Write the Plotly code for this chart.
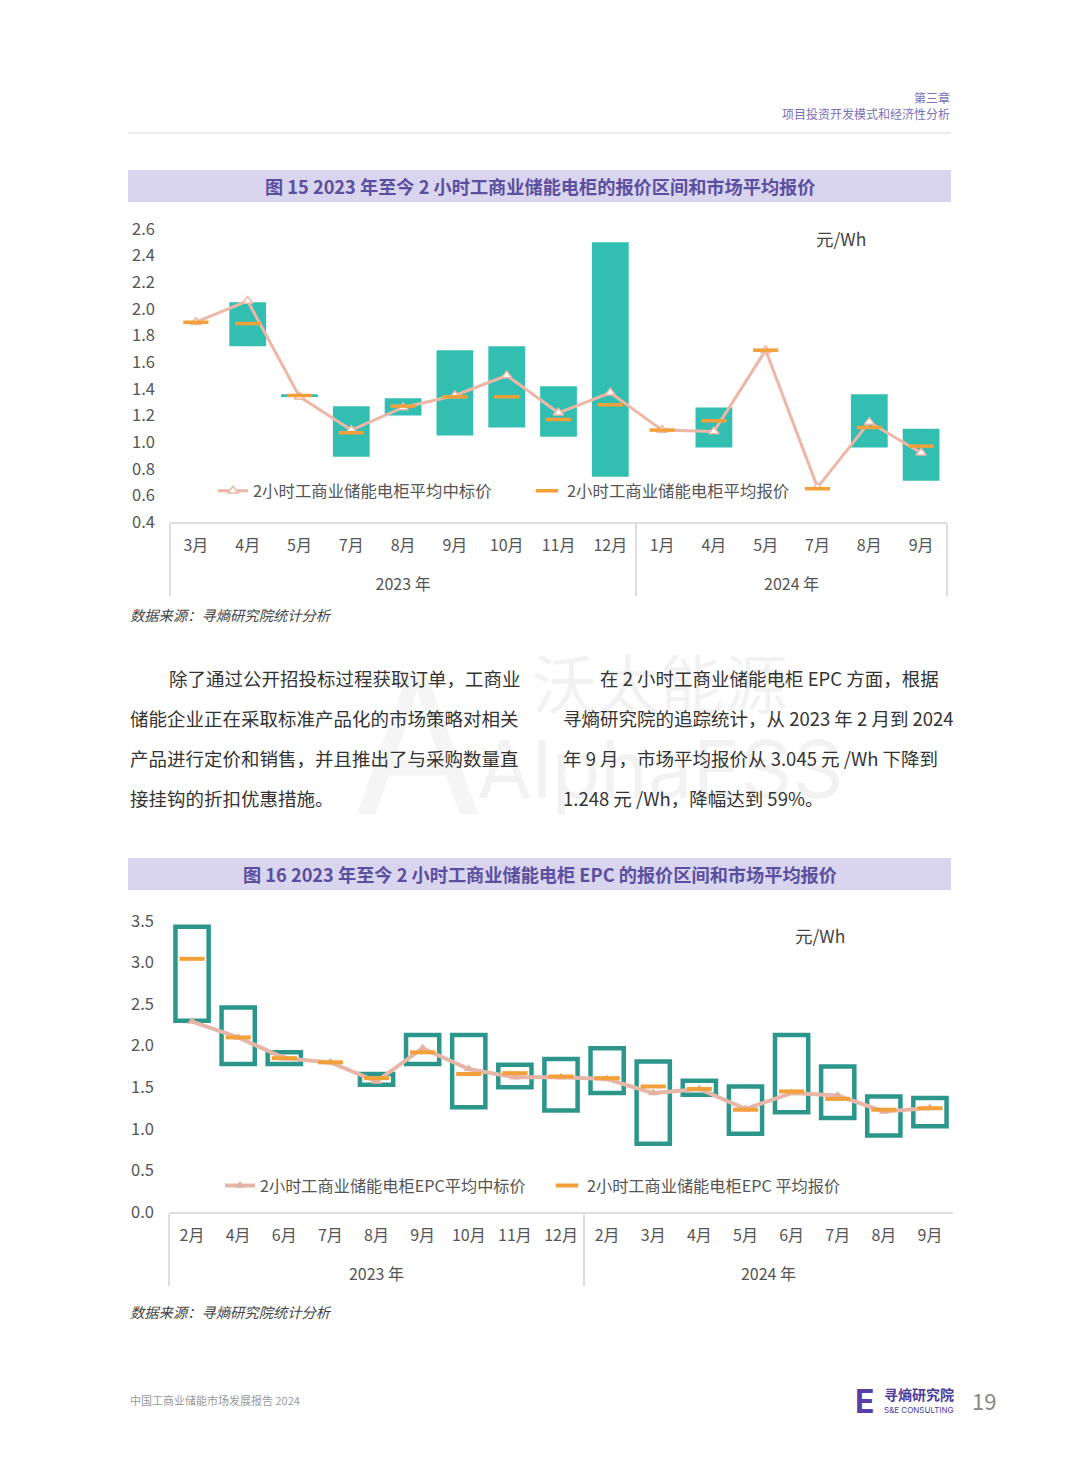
import plotly.graph_objects as go

# ---------------- Data: Figure 15 ----------------
years1 = ["2023 年"] * 9 + ["2024 年"] * 6
months1 = ["3月", "4月", "5月", "7月", "8月", "9月", "10月", "11月", "12月",
           "1月", "4月", "5月", "7月", "8月", "9月"]
low1 = [None, 1.72, 1.345, 0.89, 1.20, 1.05, 1.11, 1.04, 0.74,
        None, 0.96, None, None, 0.96, 0.71]
high1 = [None, 2.05, 1.36, 1.27, 1.33, 1.69, 1.72, 1.42, 2.50,
         None, 1.26, None, None, 1.36, 1.10]
bid1 = [1.90, 2.06, 1.34, 1.09, 1.26, 1.35, 1.50, 1.22, 1.37,
        1.09, 1.08, 1.69, 0.66, 1.15, 0.92]
quote1 = [1.90, 1.89, 1.35, 1.07, 1.27, 1.34, 1.34, 1.17, 1.28,
          1.09, 1.16, 1.69, 0.65, 1.11, 0.97]

# ---------------- Data: Figure 16 ----------------
years2 = ["2023 年"] * 9 + ["2024 年"] * 8
months2 = ["2月", "4月", "6月", "7月", "8月", "9月", "10月", "11月", "12月",
           "2月", "3月", "4月", "5月", "6月", "7月", "8月", "9月"]
low2 = [2.30, 1.78, 1.78, None, 1.53, 1.78, 1.26, 1.50, 1.22,
        1.43, 0.82, 1.41, 0.94, 1.20, 1.13, 0.92, 1.03]
high2 = [3.43, 2.46, 1.92, None, 1.66, 2.13, 2.13, 1.77, 1.84,
         1.97, 1.81, 1.58, 1.51, 2.13, 1.75, 1.39, 1.37]
bid2 = [2.29, 2.10, 1.85, 1.80, 1.57, 1.97, 1.72, 1.62, 1.62,
        1.60, 1.43, 1.48, 1.24, 1.43, 1.40, 1.21, 1.25]
quote2 = [3.045, 2.10, 1.85, 1.80, 1.61, 1.92, 1.66, 1.67, 1.63,
          1.61, 1.51, 1.48, 1.23, 1.45, 1.36, 1.23, 1.248]

name_bid1 = "2小时工商业储能电柜平均中标价"
name_quote1 = "2小时工商业储能电柜平均报价"
name_bid2 = "2小时工商业储能电柜EPC平均中标价"
name_quote2 = "2小时工商业储能电柜EPC 平均报价"

W, H = 1080, 1466
OFF = 8  # page body margin of the html page
FONT = "Noto Sans CJK SC, Noto Sans, sans-serif"
TEAL = "#33beb2"
TEAL_DARK = "#2c968b"
ORANGE = "#f3a03a"
PINK = "#eeb6a6"
PURPLE = "#5b4f9f"
GRAY_TXT = "#555555"


def px(x):
    return (x - OFF) / W


def py(y):
    return 1 - (y - OFF) / H


def diff(h, l):
    return [None if (a is None or b is None) else a - b for a, b in zip(h, l)]


def multi_x(years, months):
    # unique month keys per year keep plotly's category order; the year row
    # is pushed one line lower to leave room under the month row
    uniq = list(dict.fromkeys(years))
    return [["<br>" + y for y in years],
            [m + "\u200b" * uniq.index(y) for y, m in zip(years, months)]]


fig = go.Figure()

# ---------- Chart 1 ----------
x1 = multi_x(years1, months1)
fig.add_trace(go.Bar(x=x1, y=diff(high1, low1), base=low1, width=0.71,
                     marker=dict(color=TEAL, line=dict(width=0)),
                     showlegend=False, hoverinfo="skip",
                     xaxis="x", yaxis="y"))
fig.add_trace(go.Scatter(x=x1, y=bid1, name=name_bid1, mode="lines+markers",
                         line=dict(color=PINK, width=3),
                         marker=dict(symbol="triangle-up", size=9, color="white",
                                     line=dict(color=PINK, width=1.5)),
                         xaxis="x", yaxis="y", legend="legend"))
fig.add_trace(go.Scatter(x=x1, y=quote1, name=name_quote1, mode="markers",
                         marker=dict(symbol="line-ew", size=18,
                                     line=dict(color=ORANGE, width=3.5)),
                         xaxis="x", yaxis="y", legend="legend"))

# ---------- Chart 2 ----------
x2 = multi_x(years2, months2)
fig.add_trace(go.Bar(x=x2, y=diff(high2, low2), base=low2, width=0.72,
                     marker=dict(color="rgba(255,255,255,0)",
                                 line=dict(color=TEAL_DARK, width=4.5)),
                     showlegend=False, hoverinfo="skip",
                     xaxis="x2", yaxis="y2"))
fig.add_trace(go.Scatter(x=x2, y=bid2, name=name_bid2, mode="lines+markers",
                         line=dict(color="#e6b7a8", width=4),
                         marker=dict(symbol="triangle-up", size=9, color="#e3b2a2"),
                         xaxis="x2", yaxis="y2", legend="legend2"))
fig.add_trace(go.Scatter(x=x2, y=quote2, name=name_quote2, mode="markers",
                         marker=dict(symbol="line-ew", size=18,
                                     line=dict(color=ORANGE, width=4)),
                         xaxis="x2", yaxis="y2", legend="legend2"))

axis_common_x = dict(type="multicategory", showgrid=False, zeroline=False,
                     showline=True, linecolor="#dedede", linewidth=1.5,
                     showdividers=True, dividercolor="#dedede", dividerwidth=1.5,
                     automargin=False, ticklabelstandoff=8,
                     ticks="", tickfont=dict(size=16, color=GRAY_TXT, family=FONT))
axis_common_y = dict(showgrid=False, zeroline=False, showline=False, ticks="",
                     automargin=False,
                     tickfont=dict(size=16.5, color=GRAY_TXT, family=FONT),
                     ticklabelstandoff=14)

fig.update_layout(
    width=W, height=H,
    margin=dict(l=0, r=0, t=0, b=0, autoexpand=False),
    paper_bgcolor="white", plot_bgcolor="rgba(0,0,0,0)",
    font=dict(family=FONT, color=GRAY_TXT),
    xaxis=dict(domain=[px(170), px(947)], anchor="y",
               range=[-0.5, len(months1) - 0.5], **axis_common_x),
    yaxis=dict(domain=[py(522), py(229)], anchor="x", range=[0.4, 2.6],
               dtick=0.2, tick0=0.4, tickformat=".1f", **axis_common_y),
    xaxis2=dict(domain=[px(169), px(953)], anchor="y2",
                range=[-0.5, len(months2) - 0.5], **axis_common_x),
    yaxis2=dict(domain=[py(1212), py(921)], anchor="x2", range=[0, 3.5],
                dtick=0.5, tick0=0, tickformat=".1f", **axis_common_y),
    legend=dict(orientation="h", x=px(213), y=py(491), xanchor="left",
                yanchor="middle", bgcolor="rgba(0,0,0,0)",
                font=dict(size=16.4, color=GRAY_TXT, family=FONT),
                entrywidth=269, entrywidthmode="pixels", itemwidth=30),
    legend2=dict(orientation="h", x=px(220), y=py(1186), xanchor="left",
                 yanchor="middle", bgcolor="rgba(0,0,0,0)",
                 font=dict(size=16.2, color=GRAY_TXT, family=FONT),
                 entrywidth=282, entrywidthmode="pixels", itemwidth=30),
)

shapes = []
annotations = []

# faint watermark
annotations.append(dict(x=px(350), y=py(745), text="A", showarrow=False,
                        xref="paper", yref="paper",
                        font=dict(size=190, color="rgba(0,0,0,0.04)", family="Inter")))
annotations.append(dict(x=px(660), y=py(680), text="沃太能源", showarrow=False,
                        xref="paper", yref="paper",
                        font=dict(size=64, color="rgba(0,0,0,0.05)", family=FONT)))
annotations.append(dict(x=px(660), y=py(768), text="AlphaESS", showarrow=False,
                        xref="paper", yref="paper",
                        font=dict(size=80, color="rgba(0,0,0,0.05)", family="Inter")))

# header
annotations.append(dict(x=px(952), y=py(98), text="第三章", showarrow=False,
                        xref="paper", yref="paper", xanchor="right", yanchor="middle",
                        font=dict(size=12, color="#7a70b8", family=FONT)))
annotations.append(dict(x=px(952), y=py(114), text="项目投资开发模式和经济性分析",
                        showarrow=False, xref="paper", yref="paper",
                        xanchor="right", yanchor="middle",
                        font=dict(size=12, color="#7a70b8", family=FONT)))
shapes.append(dict(type="line", xref="paper", yref="paper", x0=px(128), x1=px(951),
                   y0=py(133), y1=py(133), line=dict(color="#dcdcdc", width=1.2)))

# title bars
for (ytop, ybot, txt) in [
    (170, 202, "<b>图 15 2023 年至今 2 小时工商业储能电柜的报价区间和市场平均报价</b>"),
    (858, 890, "<b>图 16 2023 年至今 2 小时工商业储能电柜 EPC 的报价区间和市场平均报价</b>"),
]:
    shapes.append(dict(type="rect", xref="paper", yref="paper", x0=px(128), x1=px(951),
                       y0=py(ybot), y1=py(ytop), fillcolor="#d9d5ee",
                       line=dict(width=0), layer="below"))
    annotations.append(dict(x=px(540), y=py((ytop + ybot) / 2), text=txt,
                            showarrow=False, xref="paper", yref="paper",
                            xanchor="center", yanchor="middle",
                            font=dict(size=18.2, color=PURPLE, family=FONT)))

# units
annotations.append(dict(x=px(841), y=py(238), text="元/Wh", showarrow=False,
                        xref="paper", yref="paper", xanchor="center", yanchor="middle",
                        font=dict(size=17.5, color="#444444", family=FONT)))
annotations.append(dict(x=px(820), y=py(935), text="元/Wh", showarrow=False,
                        xref="paper", yref="paper", xanchor="center", yanchor="middle",
                        font=dict(size=17.5, color="#444444", family=FONT)))

# sources
for ys in (614, 1311):
    annotations.append(dict(x=px(128), y=py(ys), text="<i>数据来源：寻熵研究院统计分析</i>",
                            showarrow=False, xref="paper", yref="paper",
                            xanchor="left", yanchor="middle",
                            font=dict(size=14.3, color="#444444", family=FONT)))

# body text
left_lines = [
    (167, "除了通过公开招投标过程获取订单，工商业"),
    (128, "储能企业正在采取标准产品化的市场策略对相关"),
    (128, "产品进行定价和销售，并且推出了与采购数量直"),
    (128, "接挂钩的折扣优惠措施。"),
]
right_lines = [
    (598, "在 2 小时工商业储能电柜 EPC 方面，根据"),
    (561, "寻熵研究院的追踪统计，从 2023 年 2 月到 2024"),
    (561, "年 9 月，市场平均报价从 3.045 元 /Wh 下降到"),
    (561, "1.248 元 /Wh，降幅达到 59%。"),
]
line_y = [678, 718, 758, 798]
for (xl, t), yy in zip(left_lines + right_lines, line_y + line_y):
    annotations.append(dict(x=px(xl), y=py(yy), text=t, showarrow=False,
                            xref="paper", yref="paper", xanchor="left", yanchor="middle",
                            font=dict(size=18.5, color="#333333", family=FONT)))

# footer
annotations.append(dict(x=px(128), y=py(1400), text="中国工商业储能市场发展报告 2024",
                        showarrow=False, xref="paper", yref="paper",
                        xanchor="left", yanchor="middle",
                        font=dict(size=11, color="#999999", family=FONT)))
annotations.append(dict(x=px(864), y=py(1401), text="<b>E</b>", showarrow=False,
                        xref="paper", yref="paper", xanchor="center", yanchor="middle",
                        font=dict(size=32, color="#5a3ea6", family="Inter")))
annotations.append(dict(x=px(882), y=py(1394), text="<b>寻熵研究院</b>", showarrow=False,
                        xref="paper", yref="paper", xanchor="left", yanchor="middle",
                        font=dict(size=14, color="#4b3c9a", family=FONT)))
annotations.append(dict(x=px(882), y=py(1410), text="S&E CONSULTING", showarrow=False,
                        xref="paper", yref="paper", xanchor="left", yanchor="middle",
                        font=dict(size=8, color="#4b3c9a", family="Inter")))
annotations.append(dict(x=px(970), y=py(1400), text="19", showarrow=False,
                        xref="paper", yref="paper", xanchor="left", yanchor="middle",
                        font=dict(size=22, color="#888888", family=FONT)))

fig.update_layout(shapes=shapes, annotations=annotations)

fig.write_html("out.html")
